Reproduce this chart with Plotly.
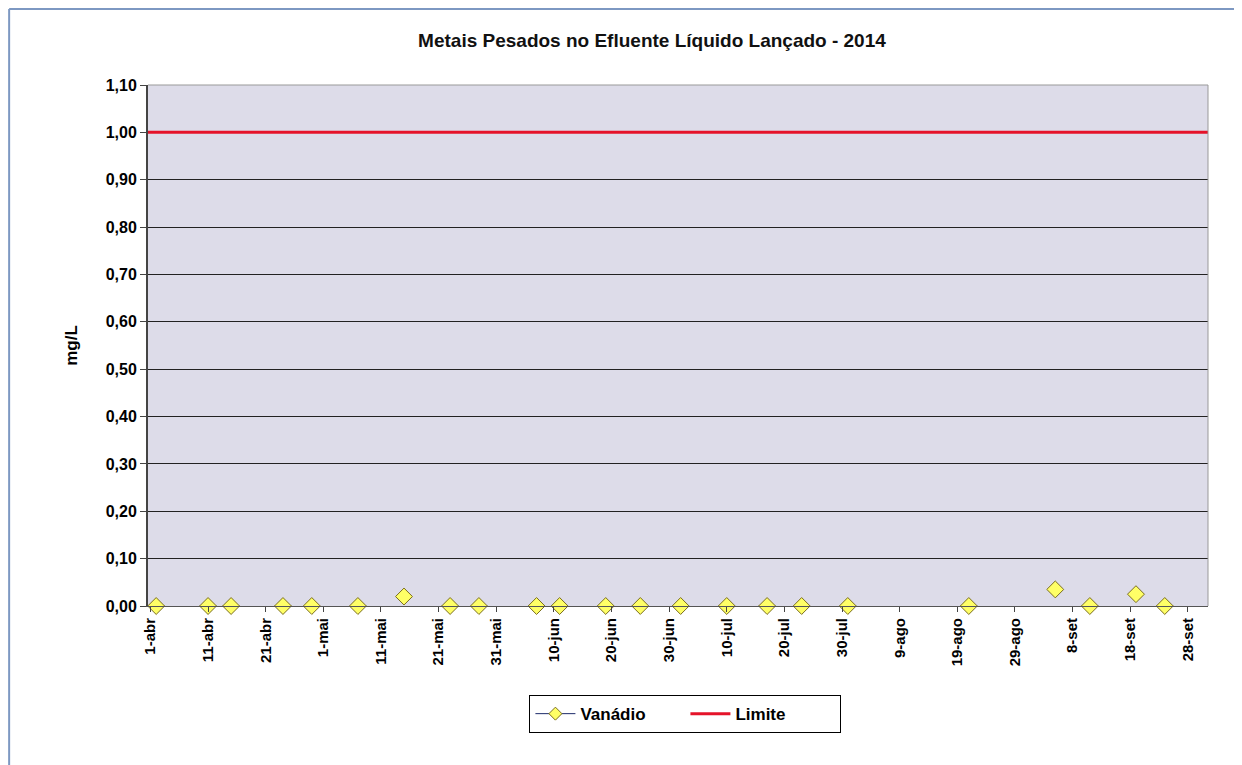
import plotly.graph_objects as go

# --- dados ---
datas_vanadio = [
    "2014-04-02", "2014-04-11", "2014-04-15", "2014-04-24", "2014-04-29",
    "2014-05-07", "2014-05-15", "2014-05-23", "2014-05-28", "2014-06-07",
    "2014-06-11", "2014-06-19", "2014-06-25", "2014-07-02", "2014-07-10",
    "2014-07-17", "2014-07-23", "2014-07-31", "2014-08-21", "2014-09-05",
    "2014-09-11", "2014-09-19", "2014-09-24",
]
vanadio = [0, 0, 0, 0, 0, 0, 0.02, 0, 0, 0,
           0, 0, 0, 0, 0, 0, 0, 0, 0, 0.035,
           0, 0.025, 0]

datas_limite = ["2014-03-31 12:00", "2014-10-01 12:00"]
limite = [1.0, 1.0]

tick_datas = [
    "2014-04-01", "2014-04-11", "2014-04-21", "2014-05-01", "2014-05-11",
    "2014-05-21", "2014-05-31", "2014-06-10", "2014-06-20", "2014-06-30",
    "2014-07-10", "2014-07-20", "2014-07-30", "2014-08-09", "2014-08-19",
    "2014-08-29", "2014-09-08", "2014-09-18", "2014-09-28",
]
tick_labels = [
    "1-abr", "11-abr", "21-abr", "1-mai", "11-mai", "21-mai", "31-mai",
    "10-jun", "20-jun", "30-jun", "10-jul", "20-jul", "30-jul", "9-ago",
    "19-ago", "29-ago", "8-set", "18-set", "28-set",
]

FONTE = "Liberation Sans, Arial, sans-serif"

fig = go.Figure()

# Vanádio: só marcadores (pontos não ligados)
fig.add_trace(go.Scatter(
    x=datas_vanadio, y=vanadio, mode="markers", name="Vanádio",
    marker=dict(symbol="diamond", size=13, color="#ffff66",
                line=dict(color="#7a6d1e", width=1)),
    cliponaxis=False, showlegend=False,
))
# entrada de legenda (linha + losango)
fig.add_trace(go.Scatter(
    x=[None], y=[None], mode="lines+markers", name="Vanádio",
    line=dict(color="#1c2a6b", width=1),
    marker=dict(symbol="diamond", size=10, color="#ffff66",
                line=dict(color="#7a6d1e", width=1)),
))
fig.add_trace(go.Scatter(
    x=datas_limite, y=limite, mode="lines", name="Limite",
    line=dict(color="#e5132a", width=3), cliponaxis=False,
))

fig.update_layout(
    width=1242, height=765,
    paper_bgcolor="white", plot_bgcolor="#dddce9",
    margin=dict(l=140, r=42, t=77, b=167),
    separators=",.",
    font=dict(family=FONTE, color="black", weight="bold"),
    title=dict(text="Metais Pesados no Efluente Líquido Lançado - 2014",
               x=0.5185, xanchor="center", y=0.958, yanchor="middle",
               font=dict(size=19, color="#111", weight="bold")),
    xaxis=dict(
        type="date", range=["2014-03-31 14:00", "2014-10-01 12:00"],
        tickmode="array", tickvals=tick_datas, ticktext=tick_labels,
        tickangle=-90, ticks="outside", ticklen=5, tickcolor="#444",
        tickfont=dict(size=15, family=FONTE, weight="bold"), showgrid=False,
        showline=True, linecolor="#555", linewidth=1, zeroline=False,
        mirror=False,
    ),
    yaxis=dict(
        range=[0, 1.10], dtick=0.1, tickformat=".2f",
        ticks="outside", ticklen=6, tickcolor="#444",
        tickfont=dict(size=16, family=FONTE, weight="bold"),
        showgrid=True, gridcolor="#222", gridwidth=1,
        showline=True, linecolor="#444", linewidth=2, zeroline=False,
        title=dict(text="mg/L", font=dict(size=17, weight="bold"), standoff=24),
    ),
    legend=dict(orientation="h", x=0.507, xanchor="center", y=-0.171,
                yanchor="top", bordercolor="black", borderwidth=1,
                bgcolor="white", font=dict(size=17, weight="bold"),
                itemwidth=40, entrywidth=100, tracegroupgap=0,
                ),
    showlegend=True,
    shapes=[
        # borda direita e superior da área do gráfico
        dict(type="line", xref="paper", yref="paper", x0=1, x1=1, y0=0, y1=1,
             line=dict(color="#999", width=1)),
        dict(type="line", xref="paper", yref="paper", x0=0, x1=1, y0=1, y1=1,
             line=dict(color="#999", width=1)),
        # moldura externa
        dict(type="line", xref="paper", yref="paper", x0=-0.131, x1=-0.131,
             y0=-0.35, y1=1.146, line=dict(color="#7d98c2", width=2)),
        dict(type="line", xref="paper", yref="paper", x0=-0.131, x1=1.05,
             y0=1.146, y1=1.146, line=dict(color="#7d98c2", width=2)),
    ],
)

fig.write_html("out.html")
